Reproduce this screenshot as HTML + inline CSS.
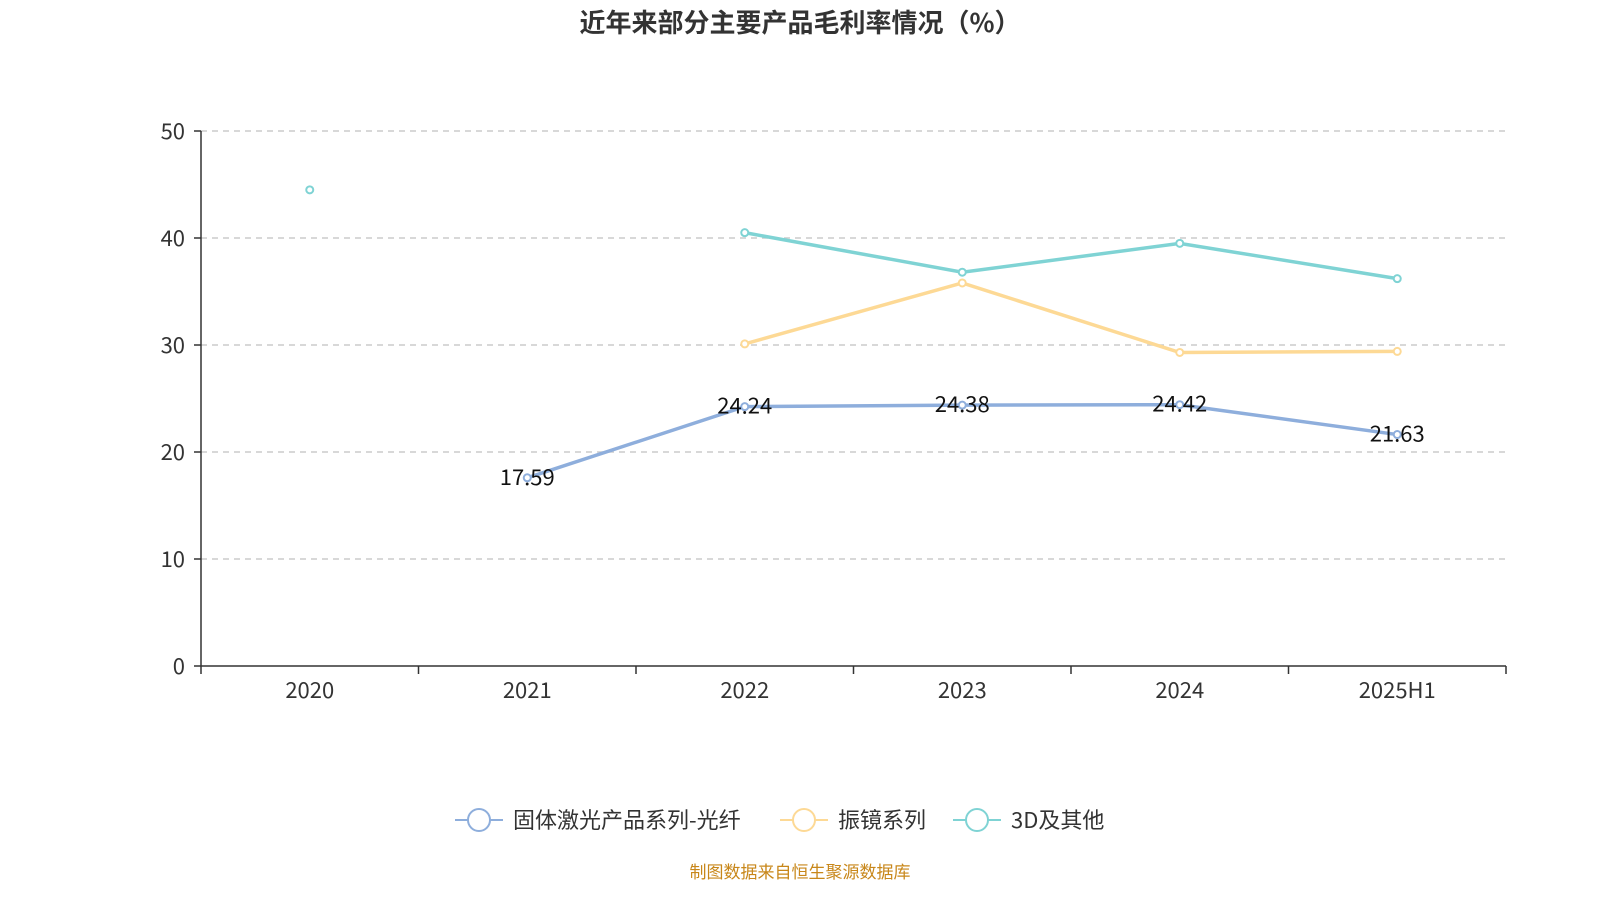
<!DOCTYPE html>
<html><head><meta charset="utf-8">
<style>
body{margin:0;background:#fff;width:1600px;height:900px;overflow:hidden;font-family:"Noto Sans CJK SC","Liberation Sans",sans-serif;}
</style></head>
<body>
<svg id="chart" width="1600" height="900" xmlns="http://www.w3.org/2000/svg" font-family="'Noto Sans CJK SC','Liberation Sans',sans-serif">
<text x="800" y="32" text-anchor="middle" font-size="26" font-weight="bold" fill="#333">近年来部分主要产品毛利率情况（%）</text>
<g id="grid"></g><g id="axes"></g><g id="series"></g>
<g id="legend"></g>
<text x="800" y="878" text-anchor="middle" font-size="17" fill="#c8871a">制图数据来自恒生聚源数据库</text>
</svg>
<script>
const categories=["2020","2021","2022","2023","2024","2025H1"];
const yTicks=[0,10,20,30,40,50];
const seriesNames=["固体激光产品系列-光纤","振镜系列","3D及其他"];
const fiberValues=[null,17.59,24.24,24.38,24.42,21.63];
const galvoValues=[null,null,30.1,35.8,29.3,29.4];
const otherValues=[44.5,null,40.5,36.8,39.5,36.2];
const colors=["#8eaedc","#fdd995","#7fd3d4"];
const NS="http://www.w3.org/2000/svg";
const L=201,R=1506,T=131,B=666;
const bw=(R-L)/categories.length;
const xS=i=>L+bw*(i+0.5);
const yS=v=>B-(v/50)*(B-T);
function mk(tag,attrs,parent){const e=document.createElementNS(NS,tag);for(const k in attrs)e.setAttribute(k,attrs[k]);parent.appendChild(e);return e;}
const grid=document.getElementById('grid'),axes=document.getElementById('axes'),ser=document.getElementById('series'),leg=document.getElementById('legend');
yTicks.forEach(t=>{
  if(t>0){const g=mk('line',{x1:L,x2:R,y1:yS(t),y2:yS(t),stroke:'#ccc','stroke-dasharray':'6,5','stroke-width':1.5},grid);
  
  }
  mk('line',{x1:L-7,x2:L,y1:yS(t),y2:yS(t),stroke:'#333','stroke-width':1.5},axes);
  const tx=mk('text',{x:L-16,y:yS(t)+8,'text-anchor':'end','font-size':22,fill:'#333'},axes);tx.textContent=t;
  
  
});
mk('line',{x1:L,x2:L,y1:T,y2:B,stroke:'#333','stroke-width':1.5},axes);
mk('line',{x1:L,x2:R,y1:B,y2:B,stroke:'#333','stroke-width':1.5},axes);
for(let i=0;i<=categories.length;i++)mk('line',{x1:L+bw*i,x2:L+bw*i,y1:B,y2:B+8,stroke:'#333','stroke-width':1.5},axes);
categories.forEach((c,i)=>{const tx=mk('text',{x:xS(i),y:698,'text-anchor':'middle','font-size':22,fill:'#333'},axes);tx.textContent=c;
  
  });
function drawSeries(vals,color,name,labels){
  const g=mk('g',{},ser);
  
  
  let seg=[];const segs=[];
  vals.forEach((v,i)=>{if(v==null){if(seg.length)segs.push(seg);seg=[];}else seg.push([xS(i),yS(v)]);});
  if(seg.length)segs.push(seg);
  segs.forEach(s=>{if(s.length>1)mk('polyline',{points:s.map(p=>p.join(',')).join(' '),fill:'none',stroke:color,'stroke-width':3.5},g);});
  vals.forEach((v,i)=>{if(v==null)return;
    const c=mk('circle',{cx:xS(i),cy:yS(v),r:3.5,fill:'#fff',stroke:color,'stroke-width':2},g);
    
    
    if(labels){const t=mk('text',{x:xS(i),y:yS(v)+7,'text-anchor':'middle','font-size':22,fill:'#111'},g);t.textContent=v.toFixed(2);
      
      }
  });
}
drawSeries(galvoValues,colors[1],'series-galvo',false);
drawSeries(otherValues,colors[2],'series-3d-other',false);
drawSeries(fiberValues,colors[0],'series-fiber-laser',true);
const lx=[455,780,953];
seriesNames.forEach((n,i)=>{
  const g=mk('g',{},leg);
  
  
  mk('line',{x1:lx[i],x2:lx[i]+48,y1:820,y2:820,stroke:colors[i],'stroke-width':2},g);
  mk('circle',{cx:lx[i]+24,cy:820,r:11,fill:'#fff',stroke:colors[i],'stroke-width':2},g);
  const t=mk('text',{x:lx[i]+58,y:828,'font-size':22,fill:'#333'},g);t.textContent=n;
});
</script>
</body></html>
